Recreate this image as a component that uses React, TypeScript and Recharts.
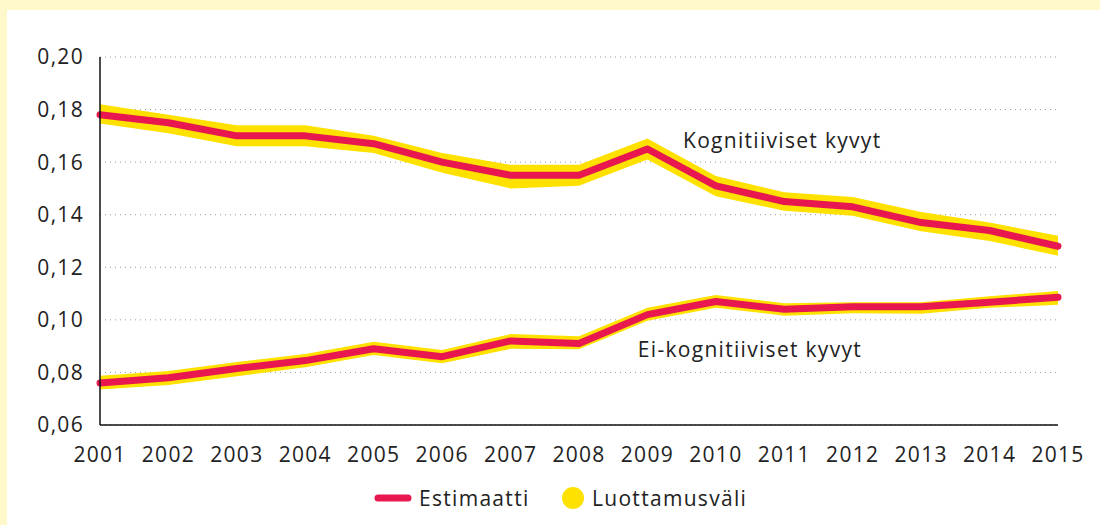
import {
  ComposedChart,
  Area,
  Line,
  XAxis,
  YAxis,
  CartesianGrid,
  Legend,
  ReferenceDot,
} from 'recharts';

const years = [2001, 2002, 2003, 2004, 2005, 2006, 2007, 2008, 2009, 2010, 2011, 2012, 2013, 2014, 2015];

// Kognitiiviset kyvyt
const kogEst = [0.178, 0.175, 0.170, 0.170, 0.167, 0.160, 0.155, 0.155, 0.165, 0.151, 0.145, 0.143, 0.137, 0.134, 0.128];
const kogLow = [0.1747, 0.171, 0.166, 0.166, 0.1635, 0.156, 0.150, 0.151, 0.161, 0.147, 0.1415, 0.1396, 0.1337, 0.130, 0.1244];
const kogHigh = [0.182, 0.178, 0.174, 0.174, 0.170, 0.1635, 0.159, 0.159, 0.169, 0.1547, 0.1485, 0.1467, 0.141, 0.137, 0.132];

// Ei-kognitiiviset kyvyt
const eiEst = [0.076, 0.078, 0.0815, 0.0845, 0.089, 0.086, 0.092, 0.091, 0.102, 0.107, 0.104, 0.105, 0.105, 0.1067, 0.1086];
const eiLow = [0.0735, 0.0752, 0.0785, 0.082, 0.0866, 0.0835, 0.089, 0.0888, 0.0997, 0.1046, 0.1016, 0.1025, 0.1023, 0.1046, 0.1057];
const eiHigh = [0.0787, 0.0805, 0.084, 0.087, 0.0917, 0.0885, 0.0946, 0.0938, 0.1046, 0.1095, 0.1063, 0.1067, 0.1067, 0.109, 0.111];

const yTicks = [0.06, 0.08, 0.10, 0.12, 0.14, 0.16, 0.18, 0.20];

const seriesLabels = [
  { text: 'Kognitiiviset kyvyt', x: 2009.52, y: 0.1684 },
  { text: 'Ei-kognitiiviset kyvyt', x: 2008.86, y: 0.0888 },
];

const legendItems = [
  { name: 'Estimaatti', kind: 'line' },
  { name: 'Luottamusväli', kind: 'circle' },
];

const RED = '#E8174F';
const YELLOW = '#FFE100';
const FONT = '"Open Sans", Lato, sans-serif';
const TEXT = '#222';
const textStyle = { fill: TEXT, fontSize: 21, fontFamily: FONT, fontWeight: 400, letterSpacing: 1.3 };

const data = years.map((year, i) => ({
  year,
  kogEst: kogEst[i],
  kogBand: [kogLow[i], kogHigh[i]],
  eiEst: eiEst[i],
  eiBand: [eiLow[i], eiHigh[i]],
}));

const fmt = (v: number) => v.toFixed(2).replace('.', ',');

function LegendContent() {
  return (
    <div
      style={{
        height: 36,
        display: 'flex',
        alignItems: 'center',
        paddingLeft: 372,
        fontFamily: FONT,
        fontWeight: 400,
        letterSpacing: 1.3,
        fontSize: 21,
        color: TEXT,
      }}
    >
      {legendItems.map((it) => (
        <div key={it.name} style={{ display: 'flex', alignItems: 'center', width: it.kind === 'line' ? 189 : 200 }}>
          {it.kind === 'line' ? (
            <svg width={42} height={12} style={{ marginRight: 5 }}>
              <line x1={6} y1={6} x2={36} y2={6} stroke={RED} strokeWidth={7} strokeLinecap="round" />
            </svg>
          ) : (
            <svg width={24} height={24} style={{ marginRight: 7 }}>
              <circle cx={12} cy={12} r={11} fill={YELLOW} />
            </svg>
          )}
          <span>{it.name}</span>
        </div>
      ))}
    </div>
  );
}

export default function App() {
  return (
    <div style={{ position: 'absolute', left: 0, top: 0, width: 1100, height: 525, background: '#FFF8CB' }}>
      <div style={{ position: 'absolute', left: 7, top: 10, right: 0, bottom: 0, background: '#fff' }} />
      <div style={{ position: 'absolute', left: 0, top: 0 }}>
        <ComposedChart width={1100} height={525} data={data} margin={{ top: 57, right: 42, bottom: 9, left: 0 }}>
          <CartesianGrid vertical={false} stroke="#999" strokeDasharray="1 4" />
          <XAxis
            dataKey="year"
            type="number"
            domain={[2001, 2015]}
            ticks={years}
            height={55}
            axisLine={{ stroke: '#111', strokeWidth: 1.5 }}
            tickLine={false}
            tickSize={0}
            tickMargin={22}
            tick={textStyle}
          />
          <YAxis
            domain={[0.06, 0.2]}
            ticks={yTicks}
            width={100}
            tickFormatter={fmt}
            axisLine={{ stroke: '#111', strokeWidth: 1.5 }}
            tickLine={false}
            tickSize={0}
            tickMargin={16}
            tick={textStyle}
          />
          <Area dataKey="kogBand" name="Luottamusväli" fill={YELLOW} fillOpacity={1} stroke="none" isAnimationActive={false} type="linear" />
          <Area dataKey="eiBand" name="Luottamusväli" fill={YELLOW} fillOpacity={1} stroke="none" isAnimationActive={false} type="linear" />
          <Line dataKey="kogEst" name="Estimaatti" stroke={RED} strokeWidth={7} strokeLinecap="round" strokeLinejoin="round" dot={false} activeDot={false} isAnimationActive={false} type="linear" />
          <Line dataKey="eiEst" name="Estimaatti" stroke={RED} strokeWidth={7} strokeLinecap="round" strokeLinejoin="round" dot={false} activeDot={false} isAnimationActive={false} type="linear" />
          {seriesLabels.map((l) => (
            <ReferenceDot
              key={l.text}
              x={l.x}
              y={l.y}
              r={0}
              stroke="none"
              fill="none"
              label={{ value: l.text, position: 'right', offset: 0, ...textStyle }}
            />
          ))}
          <Legend verticalAlign="bottom" content={<LegendContent />} wrapperStyle={{ left: 0, width: 1100 }} />
        </ComposedChart>
      </div>
    </div>
  );
}
